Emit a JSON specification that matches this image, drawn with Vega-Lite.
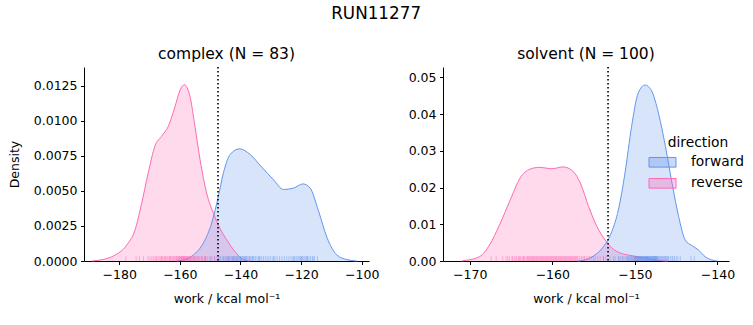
{
  "$schema": "https://vega.github.io/schema/vega-lite/v6.json",
  "background": "white",
  "padding": {"left": 8, "top": 5, "right": 5, "bottom": 5},
  "bounds": "flush",
  "spacing": 74,
  "title": {"text": "RUN11277", "fontSize": 16.8, "fontWeight": "normal", "anchor": "middle", "offset": 24, "font": "DejaVu Sans", "color": "black"},
  "datasets": {
    "complex_kde": [
      {"direction": "reverse", "work": -189.0, "density": 0},
      {"direction": "reverse", "work": -185.5, "density": 0.0001},
      {"direction": "reverse", "work": -181.9, "density": 0.00036},
      {"direction": "reverse", "work": -177.5, "density": 0.00114},
      {"direction": "reverse", "work": -174.8, "density": 0.0022},
      {"direction": "reverse", "work": -172.6, "density": 0.0041},
      {"direction": "reverse", "work": -170.4, "density": 0.0063},
      {"direction": "reverse", "work": -168.2, "density": 0.0082},
      {"direction": "reverse", "work": -166.0, "density": 0.0089},
      {"direction": "reverse", "work": -163.8, "density": 0.0096},
      {"direction": "reverse", "work": -161.6, "density": 0.011},
      {"direction": "reverse", "work": -159.9, "density": 0.0122},
      {"direction": "reverse", "work": -158.5, "density": 0.01257},
      {"direction": "reverse", "work": -156.6, "density": 0.0117},
      {"direction": "reverse", "work": -155.0, "density": 0.0096},
      {"direction": "reverse", "work": -153.3, "density": 0.0072},
      {"direction": "reverse", "work": -151.1, "density": 0.0048},
      {"direction": "reverse", "work": -148.9, "density": 0.0034},
      {"direction": "reverse", "work": -146.7, "density": 0.0023},
      {"direction": "reverse", "work": -144.5, "density": 0.0015},
      {"direction": "reverse", "work": -141.8, "density": 0.00067},
      {"direction": "reverse", "work": -139.0, "density": 0.0001},
      {"direction": "reverse", "work": -137.0, "density": 0},
      {"direction": "forward", "work": -161.0, "density": 0},
      {"direction": "forward", "work": -159.9, "density": 0.00003},
      {"direction": "forward", "work": -155.5, "density": 0.00043},
      {"direction": "forward", "work": -152.2, "density": 0.0013},
      {"direction": "forward", "work": -149.5, "density": 0.0027},
      {"direction": "forward", "work": -147.3, "density": 0.0046},
      {"direction": "forward", "work": -145.6, "density": 0.0063},
      {"direction": "forward", "work": -143.4, "density": 0.0076},
      {"direction": "forward", "work": -140.3, "density": 0.008},
      {"direction": "forward", "work": -136.8, "density": 0.0076},
      {"direction": "forward", "work": -133.0, "density": 0.0067},
      {"direction": "forward", "work": -129.1, "density": 0.0058},
      {"direction": "forward", "work": -125.8, "density": 0.0051},
      {"direction": "forward", "work": -122.5, "density": 0.0052},
      {"direction": "forward", "work": -119.4, "density": 0.0055},
      {"direction": "forward", "work": -117.0, "density": 0.0052},
      {"direction": "forward", "work": -114.3, "density": 0.0036},
      {"direction": "forward", "work": -111.5, "density": 0.0017},
      {"direction": "forward", "work": -108.2, "density": 0.00043},
      {"direction": "forward", "work": -104.9, "density": 0.0001},
      {"direction": "forward", "work": -101.6, "density": 0}
    ],
    "solvent_kde": [
      {"direction": "reverse", "work": -171.0, "density": 0},
      {"direction": "reverse", "work": -170.4, "density": 0.0002},
      {"direction": "reverse", "work": -168.8, "density": 0.0012},
      {"direction": "reverse", "work": -167.6, "density": 0.0044},
      {"direction": "reverse", "work": -166.4, "density": 0.0098},
      {"direction": "reverse", "work": -165.1, "density": 0.0166},
      {"direction": "reverse", "work": -163.9, "density": 0.0226},
      {"direction": "reverse", "work": -162.7, "density": 0.025},
      {"direction": "reverse", "work": -161.5, "density": 0.0255},
      {"direction": "reverse", "work": -160.1, "density": 0.0251},
      {"direction": "reverse", "work": -158.7, "density": 0.0256},
      {"direction": "reverse", "work": -157.7, "density": 0.0248},
      {"direction": "reverse", "work": -156.6, "density": 0.0212},
      {"direction": "reverse", "work": -155.6, "density": 0.0148},
      {"direction": "reverse", "work": -154.6, "density": 0.0094},
      {"direction": "reverse", "work": -153.6, "density": 0.0057},
      {"direction": "reverse", "work": -152.6, "density": 0.0032},
      {"direction": "reverse", "work": -151.4, "density": 0.0019},
      {"direction": "reverse", "work": -150.2, "density": 0.0014},
      {"direction": "reverse", "work": -148.6, "density": 0.0007},
      {"direction": "reverse", "work": -146.9, "density": 0.0001},
      {"direction": "reverse", "work": -146.0, "density": 0},
      {"direction": "forward", "work": -157.0, "density": 0},
      {"direction": "forward", "work": -156.25, "density": 0.0002},
      {"direction": "forward", "work": -155.0, "density": 0.0014},
      {"direction": "forward", "work": -153.8, "density": 0.0039},
      {"direction": "forward", "work": -152.8, "density": 0.008},
      {"direction": "forward", "work": -152.0, "density": 0.0139},
      {"direction": "forward", "work": -151.2, "density": 0.0239},
      {"direction": "forward", "work": -150.4, "density": 0.0366},
      {"direction": "forward", "work": -149.6, "density": 0.0457},
      {"direction": "forward", "work": -148.76, "density": 0.0479},
      {"direction": "forward", "work": -147.95, "density": 0.0462},
      {"direction": "forward", "work": -147.15, "density": 0.0403},
      {"direction": "forward", "work": -146.3, "density": 0.0312},
      {"direction": "forward", "work": -145.5, "density": 0.0212},
      {"direction": "forward", "work": -144.7, "density": 0.0121},
      {"direction": "forward", "work": -143.9, "density": 0.0057},
      {"direction": "forward", "work": -143.1, "density": 0.0042},
      {"direction": "forward", "work": -142.3, "density": 0.003},
      {"direction": "forward", "work": -141.5, "density": 0.0012},
      {"direction": "forward", "work": -140.7, "density": 0.0003},
      {"direction": "forward", "work": -140.0, "density": 0}
    ],
    "complex_rug": [
      {"direction": "reverse", "work": -177.8}, {"direction": "reverse", "work": -174.4}, {"direction": "reverse", "work": -173.3}, {"direction": "reverse", "work": -172.0},
      {"direction": "reverse", "work": -170.5}, {"direction": "reverse", "work": -169.8}, {"direction": "reverse", "work": -169.2}, {"direction": "reverse", "work": -168.6},
      {"direction": "reverse", "work": -168.1}, {"direction": "reverse", "work": -167.7}, {"direction": "reverse", "work": -167.2}, {"direction": "reverse", "work": -166.8},
      {"direction": "reverse", "work": -166.3}, {"direction": "reverse", "work": -165.9}, {"direction": "reverse", "work": -165.5}, {"direction": "reverse", "work": -165.1},
      {"direction": "reverse", "work": -164.6}, {"direction": "reverse", "work": -164.2}, {"direction": "reverse", "work": -163.9}, {"direction": "reverse", "work": -163.5},
      {"direction": "reverse", "work": -163.1}, {"direction": "reverse", "work": -162.8}, {"direction": "reverse", "work": -162.4}, {"direction": "reverse", "work": -162.1},
      {"direction": "reverse", "work": -161.8}, {"direction": "reverse", "work": -161.5}, {"direction": "reverse", "work": -161.2}, {"direction": "reverse", "work": -160.9},
      {"direction": "reverse", "work": -160.6}, {"direction": "reverse", "work": -160.4}, {"direction": "reverse", "work": -160.1}, {"direction": "reverse", "work": -159.9},
      {"direction": "reverse", "work": -159.6}, {"direction": "reverse", "work": -159.4}, {"direction": "reverse", "work": -159.2}, {"direction": "reverse", "work": -159.0},
      {"direction": "reverse", "work": -158.8}, {"direction": "reverse", "work": -158.6}, {"direction": "reverse", "work": -158.4}, {"direction": "reverse", "work": -158.2},
      {"direction": "reverse", "work": -158.0}, {"direction": "reverse", "work": -157.8}, {"direction": "reverse", "work": -157.6}, {"direction": "reverse", "work": -157.4},
      {"direction": "reverse", "work": -157.1}, {"direction": "reverse", "work": -156.9}, {"direction": "reverse", "work": -156.6}, {"direction": "reverse", "work": -156.3},
      {"direction": "reverse", "work": -156.0}, {"direction": "reverse", "work": -155.7}, {"direction": "reverse", "work": -155.4}, {"direction": "reverse", "work": -155.0},
      {"direction": "reverse", "work": -154.7}, {"direction": "reverse", "work": -154.3}, {"direction": "reverse", "work": -153.9}, {"direction": "reverse", "work": -153.5},
      {"direction": "reverse", "work": -153.0}, {"direction": "reverse", "work": -152.5}, {"direction": "reverse", "work": -152.0}, {"direction": "reverse", "work": -151.4},
      {"direction": "reverse", "work": -150.8}, {"direction": "reverse", "work": -150.1}, {"direction": "reverse", "work": -149.4}, {"direction": "reverse", "work": -148.6},
      {"direction": "reverse", "work": -147.8}, {"direction": "reverse", "work": -146.9}, {"direction": "reverse", "work": -145.5}, {"direction": "reverse", "work": -143.8},
      {"direction": "reverse", "work": -142.5}, {"direction": "reverse", "work": -166.0}, {"direction": "reverse", "work": -164.8}, {"direction": "reverse", "work": -163.3},
      {"direction": "reverse", "work": -161.0}, {"direction": "reverse", "work": -160.0}, {"direction": "reverse", "work": -159.5}, {"direction": "reverse", "work": -158.9},
      {"direction": "reverse", "work": -158.5}, {"direction": "reverse", "work": -157.5}, {"direction": "reverse", "work": -156.5}, {"direction": "reverse", "work": -155.2},
      {"direction": "reverse", "work": -154.0}, {"direction": "reverse", "work": -152.8}, {"direction": "reverse", "work": -151.8},
      {"direction": "forward", "work": -151.5}, {"direction": "forward", "work": -149.8}, {"direction": "forward", "work": -148.5}, {"direction": "forward", "work": -147.3},
      {"direction": "forward", "work": -146.6}, {"direction": "forward", "work": -146.0}, {"direction": "forward", "work": -145.5}, {"direction": "forward", "work": -145.0},
      {"direction": "forward", "work": -144.6}, {"direction": "forward", "work": -144.2}, {"direction": "forward", "work": -143.8}, {"direction": "forward", "work": -143.4},
      {"direction": "forward", "work": -143.0}, {"direction": "forward", "work": -142.6}, {"direction": "forward", "work": -142.3}, {"direction": "forward", "work": -142.0},
      {"direction": "forward", "work": -141.7}, {"direction": "forward", "work": -141.4}, {"direction": "forward", "work": -141.1}, {"direction": "forward", "work": -140.8},
      {"direction": "forward", "work": -140.5}, {"direction": "forward", "work": -140.2}, {"direction": "forward", "work": -139.9}, {"direction": "forward", "work": -139.6},
      {"direction": "forward", "work": -139.3}, {"direction": "forward", "work": -139.0}, {"direction": "forward", "work": -138.7}, {"direction": "forward", "work": -138.4},
      {"direction": "forward", "work": -138.0}, {"direction": "forward", "work": -137.6}, {"direction": "forward", "work": -137.2}, {"direction": "forward", "work": -136.8},
      {"direction": "forward", "work": -136.4}, {"direction": "forward", "work": -136.0}, {"direction": "forward", "work": -135.5}, {"direction": "forward", "work": -135.0},
      {"direction": "forward", "work": -134.5}, {"direction": "forward", "work": -134.0}, {"direction": "forward", "work": -133.5}, {"direction": "forward", "work": -133.0},
      {"direction": "forward", "work": -132.4}, {"direction": "forward", "work": -131.8}, {"direction": "forward", "work": -131.2}, {"direction": "forward", "work": -130.6},
      {"direction": "forward", "work": -130.0}, {"direction": "forward", "work": -129.3}, {"direction": "forward", "work": -128.6}, {"direction": "forward", "work": -127.9},
      {"direction": "forward", "work": -127.1}, {"direction": "forward", "work": -126.3}, {"direction": "forward", "work": -125.5}, {"direction": "forward", "work": -124.7},
      {"direction": "forward", "work": -124.0}, {"direction": "forward", "work": -123.3}, {"direction": "forward", "work": -122.7}, {"direction": "forward", "work": -122.1},
      {"direction": "forward", "work": -121.6}, {"direction": "forward", "work": -121.1}, {"direction": "forward", "work": -120.7}, {"direction": "forward", "work": -120.3},
      {"direction": "forward", "work": -119.9}, {"direction": "forward", "work": -119.5}, {"direction": "forward", "work": -119.1}, {"direction": "forward", "work": -118.7},
      {"direction": "forward", "work": -118.3}, {"direction": "forward", "work": -117.9}, {"direction": "forward", "work": -117.4}, {"direction": "forward", "work": -116.9},
      {"direction": "forward", "work": -116.3}, {"direction": "forward", "work": -115.6}, {"direction": "forward", "work": -114.6}, {"direction": "forward", "work": -144.0},
      {"direction": "forward", "work": -141.2}, {"direction": "forward", "work": -140.0}, {"direction": "forward", "work": -138.2}, {"direction": "forward", "work": -137.0},
      {"direction": "forward", "work": -135.8}, {"direction": "forward", "work": -133.8}, {"direction": "forward", "work": -129.0}, {"direction": "forward", "work": -122.4},
      {"direction": "forward", "work": -120.0}, {"direction": "forward", "work": -118.0}, {"direction": "forward", "work": -116.0}
    ],
    "solvent_rug": [
      {"direction": "reverse", "work": -167.4}, {"direction": "reverse", "work": -166.8}, {"direction": "reverse", "work": -166.0}, {"direction": "reverse", "work": -165.6},
      {"direction": "reverse", "work": -165.2}, {"direction": "reverse", "work": -164.9}, {"direction": "reverse", "work": -164.6}, {"direction": "reverse", "work": -164.3},
      {"direction": "reverse", "work": -164.0}, {"direction": "reverse", "work": -163.8}, {"direction": "reverse", "work": -163.5}, {"direction": "reverse", "work": -163.3},
      {"direction": "reverse", "work": -163.0}, {"direction": "reverse", "work": -162.8}, {"direction": "reverse", "work": -162.6}, {"direction": "reverse", "work": -162.4},
      {"direction": "reverse", "work": -162.2}, {"direction": "reverse", "work": -162.0}, {"direction": "reverse", "work": -161.8}, {"direction": "reverse", "work": -161.6},
      {"direction": "reverse", "work": -161.4}, {"direction": "reverse", "work": -161.2}, {"direction": "reverse", "work": -161.0}, {"direction": "reverse", "work": -160.8},
      {"direction": "reverse", "work": -160.6}, {"direction": "reverse", "work": -160.4}, {"direction": "reverse", "work": -160.2}, {"direction": "reverse", "work": -160.0},
      {"direction": "reverse", "work": -159.8}, {"direction": "reverse", "work": -159.6}, {"direction": "reverse", "work": -159.4}, {"direction": "reverse", "work": -159.2},
      {"direction": "reverse", "work": -159.0}, {"direction": "reverse", "work": -158.8}, {"direction": "reverse", "work": -158.6}, {"direction": "reverse", "work": -158.4},
      {"direction": "reverse", "work": -158.2}, {"direction": "reverse", "work": -158.0}, {"direction": "reverse", "work": -157.8}, {"direction": "reverse", "work": -157.6},
      {"direction": "reverse", "work": -157.4}, {"direction": "reverse", "work": -157.2}, {"direction": "reverse", "work": -157.0}, {"direction": "reverse", "work": -156.7},
      {"direction": "reverse", "work": -156.4}, {"direction": "reverse", "work": -156.1}, {"direction": "reverse", "work": -155.7}, {"direction": "reverse", "work": -155.3},
      {"direction": "reverse", "work": -154.8}, {"direction": "reverse", "work": -154.2}, {"direction": "reverse", "work": -153.5}, {"direction": "reverse", "work": -152.6},
      {"direction": "reverse", "work": -151.4}, {"direction": "reverse", "work": -150.1}, {"direction": "reverse", "work": -148.5},
      {"direction": "reverse", "work": -165.4}, {"direction": "reverse", "work": -164.8}, {"direction": "reverse", "work": -164.4}, {"direction": "reverse", "work": -164.1},
      {"direction": "reverse", "work": -163.9}, {"direction": "reverse", "work": -163.6}, {"direction": "reverse", "work": -163.4}, {"direction": "reverse", "work": -163.1},
      {"direction": "reverse", "work": -162.9}, {"direction": "reverse", "work": -162.7}, {"direction": "reverse", "work": -162.5}, {"direction": "reverse", "work": -162.3},
      {"direction": "reverse", "work": -162.1}, {"direction": "reverse", "work": -161.9}, {"direction": "reverse", "work": -161.7}, {"direction": "reverse", "work": -161.5},
      {"direction": "reverse", "work": -161.3}, {"direction": "reverse", "work": -161.1}, {"direction": "reverse", "work": -160.9}, {"direction": "reverse", "work": -160.7},
      {"direction": "reverse", "work": -160.5}, {"direction": "reverse", "work": -160.3}, {"direction": "reverse", "work": -160.1}, {"direction": "reverse", "work": -159.9},
      {"direction": "reverse", "work": -159.7}, {"direction": "reverse", "work": -159.5}, {"direction": "reverse", "work": -159.3}, {"direction": "reverse", "work": -159.1},
      {"direction": "reverse", "work": -158.9}, {"direction": "reverse", "work": -158.7}, {"direction": "reverse", "work": -158.5}, {"direction": "reverse", "work": -158.3},
      {"direction": "reverse", "work": -158.1}, {"direction": "reverse", "work": -157.9}, {"direction": "reverse", "work": -157.7}, {"direction": "reverse", "work": -157.5},
      {"direction": "reverse", "work": -157.3}, {"direction": "reverse", "work": -157.1}, {"direction": "reverse", "work": -156.9}, {"direction": "reverse", "work": -156.5},
      {"direction": "reverse", "work": -156.2}, {"direction": "reverse", "work": -155.9}, {"direction": "reverse", "work": -155.5}, {"direction": "reverse", "work": -154.5},
      {"direction": "reverse", "work": -153.8},
      {"direction": "forward", "work": -155.0}, {"direction": "forward", "work": -153.8}, {"direction": "forward", "work": -153.0}, {"direction": "forward", "work": -152.4},
      {"direction": "forward", "work": -151.9}, {"direction": "forward", "work": -151.5}, {"direction": "forward", "work": -151.2}, {"direction": "forward", "work": -150.9},
      {"direction": "forward", "work": -150.6}, {"direction": "forward", "work": -150.4}, {"direction": "forward", "work": -150.2}, {"direction": "forward", "work": -150.0},
      {"direction": "forward", "work": -149.8}, {"direction": "forward", "work": -149.6}, {"direction": "forward", "work": -149.5}, {"direction": "forward", "work": -149.4},
      {"direction": "forward", "work": -149.3}, {"direction": "forward", "work": -149.2}, {"direction": "forward", "work": -149.1}, {"direction": "forward", "work": -149.0},
      {"direction": "forward", "work": -148.9}, {"direction": "forward", "work": -148.8}, {"direction": "forward", "work": -148.7}, {"direction": "forward", "work": -148.6},
      {"direction": "forward", "work": -148.5}, {"direction": "forward", "work": -148.4}, {"direction": "forward", "work": -148.3}, {"direction": "forward", "work": -148.2},
      {"direction": "forward", "work": -148.1}, {"direction": "forward", "work": -148.0}, {"direction": "forward", "work": -147.9}, {"direction": "forward", "work": -147.8},
      {"direction": "forward", "work": -147.7}, {"direction": "forward", "work": -147.6}, {"direction": "forward", "work": -147.5}, {"direction": "forward", "work": -147.4},
      {"direction": "forward", "work": -147.3}, {"direction": "forward", "work": -147.2}, {"direction": "forward", "work": -147.0}, {"direction": "forward", "work": -146.8},
      {"direction": "forward", "work": -146.6}, {"direction": "forward", "work": -146.4}, {"direction": "forward", "work": -146.2}, {"direction": "forward", "work": -146.0},
      {"direction": "forward", "work": -145.7}, {"direction": "forward", "work": -145.4}, {"direction": "forward", "work": -145.0}, {"direction": "forward", "work": -144.5},
      {"direction": "forward", "work": -143.2}, {"direction": "forward", "work": -142.8},
      {"direction": "forward", "work": -151.0}, {"direction": "forward", "work": -150.8}, {"direction": "forward", "work": -150.7}, {"direction": "forward", "work": -150.5},
      {"direction": "forward", "work": -150.3}, {"direction": "forward", "work": -150.1}, {"direction": "forward", "work": -149.95}, {"direction": "forward", "work": -149.85},
      {"direction": "forward", "work": -149.75}, {"direction": "forward", "work": -149.65}, {"direction": "forward", "work": -149.55}, {"direction": "forward", "work": -149.45},
      {"direction": "forward", "work": -149.35}, {"direction": "forward", "work": -149.25}, {"direction": "forward", "work": -149.15}, {"direction": "forward", "work": -149.05},
      {"direction": "forward", "work": -148.95}, {"direction": "forward", "work": -148.85}, {"direction": "forward", "work": -148.75}, {"direction": "forward", "work": -148.65},
      {"direction": "forward", "work": -148.55}, {"direction": "forward", "work": -148.45}, {"direction": "forward", "work": -148.35}, {"direction": "forward", "work": -148.25},
      {"direction": "forward", "work": -148.15}, {"direction": "forward", "work": -148.05}, {"direction": "forward", "work": -147.95}, {"direction": "forward", "work": -147.85},
      {"direction": "forward", "work": -147.75}, {"direction": "forward", "work": -147.65}, {"direction": "forward", "work": -147.55}, {"direction": "forward", "work": -147.45},
      {"direction": "forward", "work": -147.35}, {"direction": "forward", "work": -147.25}, {"direction": "forward", "work": -147.1}, {"direction": "forward", "work": -146.9},
      {"direction": "forward", "work": -146.7}, {"direction": "forward", "work": -146.5}, {"direction": "forward", "work": -146.3}, {"direction": "forward", "work": -146.1},
      {"direction": "forward", "work": -145.9}, {"direction": "forward", "work": -145.5}, {"direction": "forward", "work": -145.2}, {"direction": "forward", "work": -144.8},
      {"direction": "forward", "work": -152.0}, {"direction": "forward", "work": -151.7}, {"direction": "forward", "work": -149.9}, {"direction": "forward", "work": -149.7},
      {"direction": "forward", "work": -148.6}, {"direction": "forward", "work": -147.6}
    ],
    "complex_ref": [{"work": -147.4}],
    "solvent_ref": [{"work": -153.25}]
  },
  "hconcat": [
    {
      "width": 285,
      "height": 194,
      "title": {"text": "complex (N = 83)"},
      "layer": [
        {
          "data": {"name": "complex_kde"},
          "mark": {"type": "area", "fillOpacity": 0.25, "interpolate": "monotone"},
          "encoding": {
            "x": {"field": "work", "type": "quantitative", "scale": {"domain": [-191.6, -97.6], "nice": false, "zero": false}, "axis": {"values": [-180, -160, -140, -120, -100], "labelOverlap": false, "title": "work / kcal mol⁻¹"}},
            "y": {"field": "density", "type": "quantitative", "stack": null, "scale": {"domain": [0, 0.01384], "nice": false}, "axis": {"values": [0, 0.0025, 0.005, 0.0075, 0.01, 0.0125], "labelOverlap": false, "format": ".4f", "title": "Density"}},
            "color": {"field": "direction", "type": "nominal", "scale": {"domain": ["forward", "reverse"], "range": ["#6495ED", "#FF69B4"]},
              "legend": {"title": "direction", "orient": "none", "legendX": 568, "legendY": 69, "symbolType": "M-1.4,-0.5H1.4V0.5H-1.4Z", "symbolSize": 372, "titleAnchor": "middle", "labelOffset": 18, "rowPadding": 3, "titlePadding": 2,
                "encode": {"symbols": {"update": {"fill": {"scale": "color", "field": "value"}, "fillOpacity": {"value": 0.35}, "stroke": {"scale": "color", "field": "value"}, "strokeWidth": {"value": 1}, "opacity": {"value": 1}}}}}}
          }
        },
        {
          "data": {"name": "complex_kde"},
          "mark": {"type": "line", "strokeWidth": 1, "interpolate": "monotone"},
          "encoding": {
            "x": {"field": "work", "type": "quantitative", "scale": {"domain": [-191.6, -97.6], "nice": false, "zero": false}, "axis": {"values": [-180, -160, -140, -120, -100], "labelOverlap": false, "title": "work / kcal mol⁻¹"}},
            "y": {"field": "density", "type": "quantitative", "scale": {"domain": [0, 0.01384], "nice": false}, "axis": {"values": [0, 0.0025, 0.005, 0.0075, 0.01, 0.0125], "labelOverlap": false, "format": ".4f", "title": "Density"}},
            "color": {"field": "direction", "type": "nominal", "legend": null}
          }
        },
        {
          "data": {"name": "complex_rug"},
          "mark": {"type": "rule", "strokeWidth": 1, "opacity": 0.45},
          "encoding": {
            "x": {"field": "work", "type": "quantitative", "scale": {"domain": [-191.6, -97.6], "nice": false, "zero": false}, "axis": {"values": [-180, -160, -140, -120, -100], "labelOverlap": false, "title": "work / kcal mol⁻¹"}},
            "y": {"datum": 0, "type": "quantitative", "scale": {"domain": [0, 0.01384], "nice": false}, "axis": {"values": [0, 0.0025, 0.005, 0.0075, 0.01, 0.0125], "labelOverlap": false, "format": ".4f", "title": "Density"}},
            "y2": {"datum": 0.000346},
            "color": {"field": "direction", "type": "nominal", "legend": null}
          }
        },
        {
          "data": {"name": "complex_ref"},
          "mark": {"type": "rule", "strokeDash": [1.5, 2.5], "strokeWidth": 1.6, "color": "black"},
          "encoding": {
            "x": {"field": "work", "type": "quantitative", "scale": {"domain": [-191.6, -97.6], "nice": false, "zero": false}, "axis": {"values": [-180, -160, -140, -120, -100], "labelOverlap": false, "title": "work / kcal mol⁻¹"}}
          }
        }
      ]
    },
    {
      "width": 286,
      "height": 194,
      "title": {"text": "solvent (N = 100)"},
      "layer": [
        {
          "data": {"name": "solvent_kde"},
          "mark": {"type": "area", "fillOpacity": 0.25, "interpolate": "monotone"},
          "encoding": {
            "x": {"field": "work", "type": "quantitative", "scale": {"domain": [-173.24, -138.6], "nice": false, "zero": false}, "axis": {"values": [-170, -160, -150, -140], "labelOverlap": false, "title": "work / kcal mol⁻¹"}},
            "y": {"field": "density", "type": "quantitative", "stack": null, "scale": {"domain": [0, 0.0528], "nice": false}, "axis": {"values": [0, 0.01, 0.02, 0.03, 0.04, 0.05], "labelOverlap": false, "format": ".2f", "title": null}},
            "color": {"field": "direction", "type": "nominal", "scale": {"domain": ["forward", "reverse"], "range": ["#6495ED", "#FF69B4"]},
              "legend": {"title": "direction", "orient": "none", "legendX": 568, "legendY": 69, "symbolType": "M-1.4,-0.5H1.4V0.5H-1.4Z", "symbolSize": 372, "titleAnchor": "middle", "labelOffset": 18, "rowPadding": 3, "titlePadding": 2,
                "encode": {"symbols": {"update": {"fill": {"scale": "color", "field": "value"}, "fillOpacity": {"value": 0.35}, "stroke": {"scale": "color", "field": "value"}, "strokeWidth": {"value": 1}, "opacity": {"value": 1}}}}}}
          }
        },
        {
          "data": {"name": "solvent_kde"},
          "mark": {"type": "line", "strokeWidth": 1, "interpolate": "monotone"},
          "encoding": {
            "x": {"field": "work", "type": "quantitative", "scale": {"domain": [-173.24, -138.6], "nice": false, "zero": false}, "axis": {"values": [-170, -160, -150, -140], "labelOverlap": false, "title": "work / kcal mol⁻¹"}},
            "y": {"field": "density", "type": "quantitative", "scale": {"domain": [0, 0.0528], "nice": false}, "axis": {"values": [0, 0.01, 0.02, 0.03, 0.04, 0.05], "labelOverlap": false, "format": ".2f", "title": null}},
            "color": {"field": "direction", "type": "nominal", "legend": null}
          }
        },
        {
          "data": {"name": "solvent_rug"},
          "mark": {"type": "rule", "strokeWidth": 1, "opacity": 0.45},
          "encoding": {
            "x": {"field": "work", "type": "quantitative", "scale": {"domain": [-173.24, -138.6], "nice": false, "zero": false}, "axis": {"values": [-170, -160, -150, -140], "labelOverlap": false, "title": "work / kcal mol⁻¹"}},
            "y": {"datum": 0, "type": "quantitative", "scale": {"domain": [0, 0.0528], "nice": false}, "axis": {"values": [0, 0.01, 0.02, 0.03, 0.04, 0.05], "labelOverlap": false, "format": ".2f", "title": null}},
            "y2": {"datum": 0.00132},
            "color": {"field": "direction", "type": "nominal", "legend": null}
          }
        },
        {
          "data": {"name": "solvent_ref"},
          "mark": {"type": "rule", "strokeDash": [1.5, 2.5], "strokeWidth": 1.6, "color": "black"},
          "encoding": {
            "x": {"field": "work", "type": "quantitative", "scale": {"domain": [-173.24, -138.6], "nice": false, "zero": false}, "axis": {"values": [-170, -160, -150, -140], "labelOverlap": false, "title": "work / kcal mol⁻¹"}}
          }
        }
      ]
    }
  ],
  "resolve": {"scale": {"x": "independent", "y": "independent"}},
  "config": {
    "font": "DejaVu Sans",
    "view": {"stroke": null},
    "axis": {"domainColor": "black", "tickColor": "black", "labelColor": "black", "titleColor": "black", "grid": false, "tickSize": 3.5, "labelPadding": 3.5, "labelFontSize": 12.5, "titleFontSize": 12.5, "titleFontWeight": "normal", "labelFlush": false, "labelOverlap": false, "domainWidth": 1, "tickWidth": 1, "labelFont": "DejaVu Sans", "titleFont": "DejaVu Sans"},
    "axisX": {"titlePadding": 12},
    "axisY": {"titlePadding": 12},
    "title": {"fontSize": 15.5, "fontWeight": "normal", "offset": 4, "color": "black", "font": "DejaVu Sans"},
    "legend": {"titleFontSize": 13.8, "titleFontWeight": "normal", "labelFontSize": 13.8, "titleColor": "black", "labelColor": "black", "labelFont": "DejaVu Sans", "titleFont": "DejaVu Sans"}
  }
}
